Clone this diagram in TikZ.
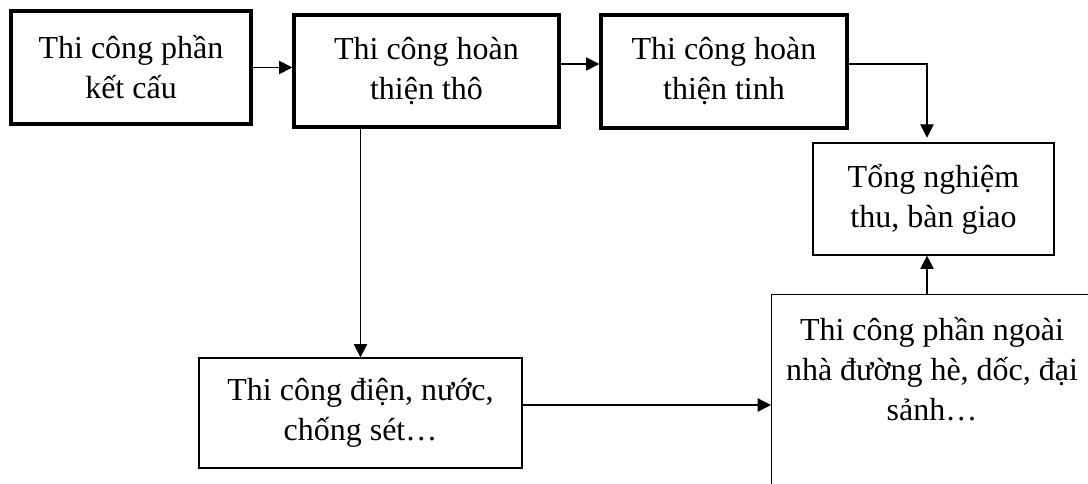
\documentclass[tikz,border=0pt]{standalone}
\usepackage{fontspec}
\setmainfont{Liberation Serif}
\usetikzlibrary{arrows.meta}
\begin{document}
\begin{tikzpicture}[x=0.75pt,y=-0.75pt,
  thickbox/.style={draw=black, line width=2.5pt, align=center, inner sep=0pt},
  thinbox/.style={draw=black, line width=0.9pt, align=center, inner sep=0pt},
  conn/.style={line width=0.9pt, -{Triangle[length=10pt,width=10pt]}},
  font=\fontsize{24pt}{30pt}\selectfont]
\useasboundingbox (0,0) rectangle (1088,484);
\clip (0,0) rectangle (1088,484);

\node[thickbox, minimum width=180pt, minimum height=84.75pt] (A) at (131,67.5) {Thi công phần\\kết cấu};
\node[thickbox, minimum width=198.75pt, minimum height=84pt] (B) at (426.5,71) {Thi công hoàn\\thiện thô};
\node[thickbox, minimum width=184.5pt, minimum height=84.75pt] (C) at (724,71.5) {Thi công hoàn\\thiện tinh};
\node[thinbox, minimum width=180.75pt, minimum height=84pt] (D) at (933.5,199) {Tổng nghiệm\\thu, bàn giao};
\node[thinbox, minimum width=242.25pt, minimum height=82.5pt] (F) at (360.5,413) {Thi công điện, nước,\\chống sét…};
\node[thinbox, anchor=north west, minimum width=255pt, minimum height=165pt] (E) at (771,294) {};
\node[anchor=base, align=center, inner sep=0pt] (Etext) at (932,420) {Thi công phần ngoài\\nhà đường hè, dốc, đại\\sảnh…};

\coordinate (y64) at (0,64);
\coordinate (y405) at (0,405);
\coordinate (x927) at (927,0);

\draw[conn] (A.east) -- (A.east -| B.west);
\draw[conn] (B.east |- y64) -- (C.west |- y64);
\draw[conn, shorten >=3.5pt] (C.east |- y64) -| (D.north -| x927);
\draw[conn] (F.north |- B.south) -- (F.north);
\draw[conn] (F.east |- y405) -- (E.west |- y405);
\draw[conn] (E.north -| x927) -- (D.south -| x927);
\end{tikzpicture}
\end{document}
